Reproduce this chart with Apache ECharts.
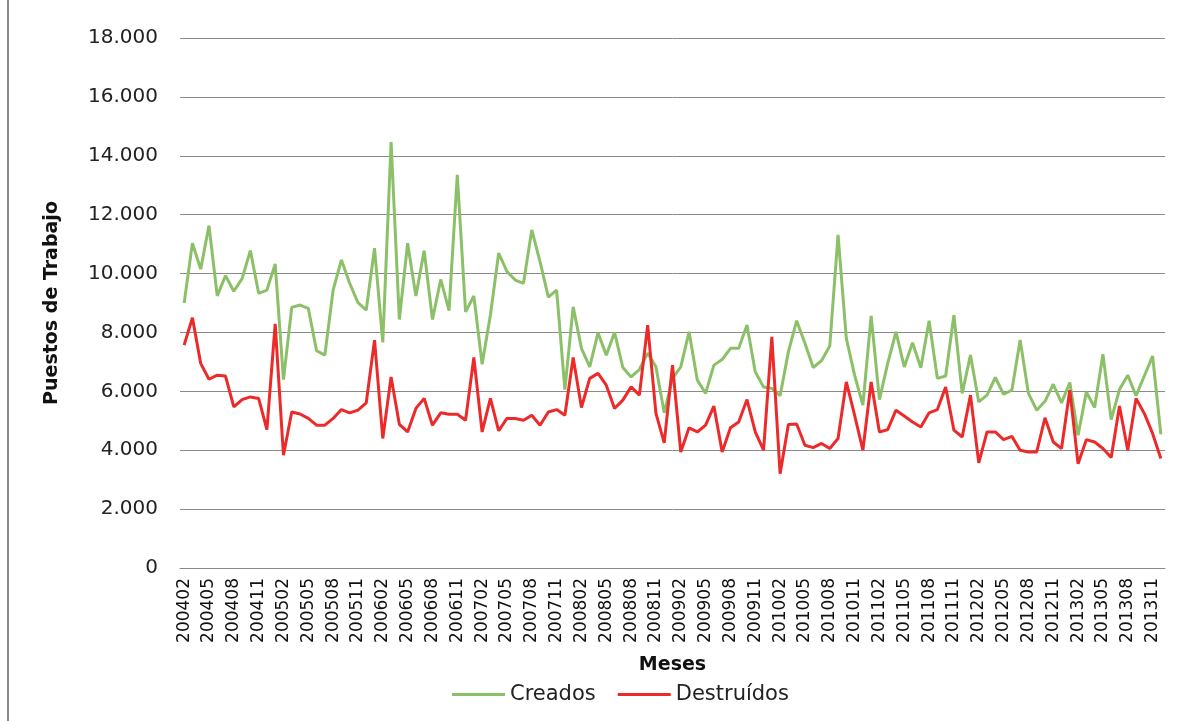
<!DOCTYPE html>
<html>
<head>
<meta charset="utf-8">
<script src="https://cdn.jsdelivr.net/npm/echarts@6/dist/echarts.min.js"></script>
<style>
  html, body { margin: 0; padding: 0; background: #fff; }
  #chart { width: 1183px; height: 721px; }
</style>
</head>
<body>
<div id="chart"></div>
<script>
var meses = [
    '200402', '200403', '200404', '200405', '200406', '200407', '200408', '200409', '200410', '200411', '200412',
    '200501', '200502', '200503', '200504', '200505', '200506', '200507', '200508', '200509', '200510', '200511', '200512',
    '200601', '200602', '200603', '200604', '200605', '200606', '200607', '200608', '200609', '200610', '200611', '200612',
    '200701', '200702', '200703', '200704', '200705', '200706', '200707', '200708', '200709', '200710', '200711', '200712',
    '200801', '200802', '200803', '200804', '200805', '200806', '200807', '200808', '200809', '200810', '200811', '200812',
    '200901', '200902', '200903', '200904', '200905', '200906', '200907', '200908', '200909', '200910', '200911', '200912',
    '201001', '201002', '201003', '201004', '201005', '201006', '201007', '201008', '201009', '201010', '201011', '201012',
    '201101', '201102', '201103', '201104', '201105', '201106', '201107', '201108', '201109', '201110', '201111', '201112',
    '201201', '201202', '201203', '201204', '201205', '201206', '201207', '201208', '201209', '201210', '201211', '201212',
    '201301', '201302', '201303', '201304', '201305', '201306', '201307', '201308', '201309', '201310', '201311', '201312'
];

var creados = [
    9000, 11030, 10150, 11630, 9240, 9930, 9400, 9830, 10780, 9330, 9440,
    10330, 6400, 8850, 8930, 8820, 7380, 7230, 9440, 10460, 9670, 9010, 8760,
    10860, 7660, 14470, 8440, 11030, 9240, 10780, 8440, 9800, 8740, 13350, 8700,
    9240, 6920, 8590, 10690, 10070, 9780, 9670, 11480, 10400, 9200, 9440, 6060,
    8870, 7460, 6830, 7990, 7230, 8000, 6810, 6490, 6740, 7300, 6830, 5270,
    6440, 6830, 8020, 6380, 5930, 6890, 7080, 7460, 7460, 8250, 6660, 6150,
    6100, 5850, 7340, 8400, 7630, 6810, 7040, 7540, 11310, 7800, 6550, 5530,
    8560, 5720, 6950, 8020, 6830, 7650, 6800, 8400, 6440, 6520, 8590, 5930,
    7230, 5640, 5870, 6470, 5900, 6040, 7740, 5930, 5360, 5660, 6240, 5610,
    6300, 4510, 5980, 5450, 7260, 5040, 6060, 6550, 5850, 6520, 7200, 4540
];

var destruidos = [
    7570, 8500, 6950, 6410, 6550, 6520, 5470, 5720, 5810, 5760, 4700,
    8290, 3830, 5300, 5230, 5080, 4850, 4850, 5080, 5380, 5270, 5360, 5610,
    7740, 4400, 6490, 4880, 4620, 5420, 5760, 4850, 5270, 5220, 5220, 5020,
    7150, 4620, 5760, 4660, 5080, 5080, 5020, 5190, 4850, 5300, 5380, 5190,
    7150, 5450, 6440, 6610, 6210, 5420, 5700, 6150, 5870, 8250, 5250, 4250,
    6890, 3940, 4760, 4620, 4850, 5500, 3940, 4760, 4960, 5720, 4620, 4000,
    7850, 3200, 4870, 4890, 4170, 4090, 4230, 4060, 4400, 6320, 5190, 4000,
    6320, 4620, 4700, 5360, 5160, 4960, 4790, 5270, 5380, 6150, 4680, 4450,
    5870, 3570, 4620, 4620, 4360, 4470, 4000, 3940, 3940, 5100, 4280, 4060,
    6040, 3540, 4360, 4280, 4060, 3750, 5500, 4000, 5760, 5250, 4570, 3720
];

var fuente = '"DejaVu Sans", "Open Sans", sans-serif';

var myChart = echarts.init(document.getElementById('chart'));

var option = {
    animation: false,
    textStyle: { fontFamily: fuente },
    graphic: [{
        type: 'rect',
        shape: { x: 8, y: -5, width: 1200, height: 740 },
        style: { fill: 'none', stroke: '#8a8a8a', lineWidth: 2 }
    }],
    grid: {
        left: 180,
        right: 18,
        top: 38,
        bottom: 153
    },
    legend: {
        bottom: 11,
        left: 447,
        icon: 'rect',
        itemWidth: 53,
        itemHeight: 3,
        itemGap: 22,
        textStyle: { fontSize: 21, color: '#222', fontFamily: fuente },
        data: ['Creados', 'Destruídos']
    },
    xAxis: {
        type: 'category',
        data: meses,
        name: 'Meses',
        nameLocation: 'middle',
        nameGap: 88,
        nameTextStyle: { fontSize: 19, fontWeight: 'bold', color: '#111', fontFamily: fuente },
        axisLine: { lineStyle: { color: '#8a8a8a', width: 1 } },
        axisTick: { show: false },
        axisLabel: {
            interval: 2,
            rotate: 90,
            fontSize: 17,
            color: '#111',
            margin: 10,
            fontFamily: fuente
        }
    },
    yAxis: {
        type: 'value',
        min: 0,
        max: 18000,
        interval: 2000,
        name: 'Puestos de Trabajo',
        nameLocation: 'middle',
        nameGap: 118,
        nameTextStyle: { fontSize: 19, fontWeight: 'bold', color: '#111', fontFamily: fuente },
        axisLine: { show: false },
        axisTick: { show: false },
        splitLine: { lineStyle: { color: '#8a8a8a', width: 1 } },
        axisLabel: {
            fontSize: 20,
            color: '#222',
            margin: 22,
            fontFamily: fuente,
            formatter: function (v) {
                return String(v).replace(/\B(?=(\d{3})+(?!\d))/g, '.');
            }
        }
    },
    series: [{
        name: 'Creados',
        type: 'line',
        data: creados,
        symbol: 'none',
        lineStyle: { color: '#8cc068', width: 3 },
        itemStyle: { color: '#8cc068' }
    }, {
        name: 'Destruídos',
        type: 'line',
        data: destruidos,
        symbol: 'none',
        lineStyle: { color: '#ec2a2a', width: 3 },
        itemStyle: { color: '#ec2a2a' }
    }]
};
myChart.setOption(option);
</script>
</body>
</html>
